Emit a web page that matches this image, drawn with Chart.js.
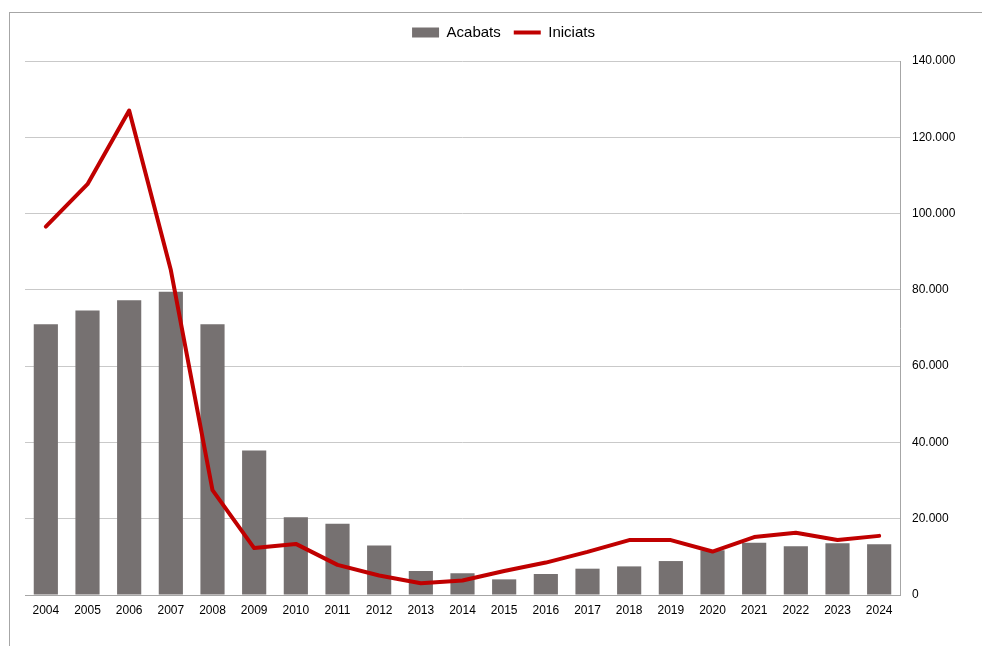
<!DOCTYPE html>
<html>
<head>
<meta charset="utf-8">
<script src="https://cdn.jsdelivr.net/npm/chart.js@4/dist/chart.umd.min.js"></script>
<style>
  html, body { margin: 0; padding: 0; background: #ffffff; }
  canvas { display: block; }
</style>
</head>
<body>
<canvas id="chart" width="982" height="646"></canvas>
<script>
// Habitatges acabats i iniciats per any
const years = ['2004','2005','2006','2007','2008','2009','2010','2011','2012','2013','2014',
               '2015','2016','2017','2018','2019','2020','2021','2022','2023','2024'];
const acabats = [71000, 74600, 77300, 79500, 71000, 37900, 20400, 18700, 13000, 6300, 5700,
                 4100, 5500, 6900, 7500, 8900, 11700, 13700, 12800, 13600, 13300];
const iniciats = [96600, 107700, 127000, 85200, 27500, 12300, 13400, 7900, 5100, 3100, 3800,
                  6300, 8500, 11300, 14400, 14400, 11400, 15200, 16300, 14400, 15500];
const yTicks = [0, 20000, 40000, 60000, 80000, 100000, 120000, 140000];

const FONT = 'Arial, "Liberation Sans", sans-serif';

// thousands separator with a dot
function fmt(v) {
  return String(Math.round(v)).replace(/\B(?=(\d{3})+(?!\d))/g, '.');
}

// outer frame around the chart
const framePlugin = {
  id: 'frame',
  beforeDraw(chart) {
    const ctx = chart.ctx;
    ctx.save();
    ctx.fillStyle = '#ffffff';
    ctx.fillRect(0, 0, chart.width, chart.height);
    ctx.strokeStyle = '#a6a6a6';
    ctx.lineWidth = 1;
    ctx.strokeRect(9.5, 12.5, 1200, 1000);
    ctx.restore();
  }
};

// extra room below the legend
const legendGapPlugin = {
  id: 'legendGap',
  beforeLayout(chart) {
    const legend = chart.legend;
    if (legend && !legend._gapWrapped) {
      const fit = legend.fit.bind(legend);
      legend.fit = function () {
        fit();
        this.height += 11;
      };
      legend._gapWrapped = true;
    }
  }
};

new Chart(document.getElementById('chart'), {
  data: {
    labels: years,
    datasets: [
      {
        type: 'bar',
        label: 'Acabats',
        data: acabats,
        backgroundColor: '#767171',
        borderWidth: 0,
        pointStyle: 'rect',
        categoryPercentage: 1.0,
        barPercentage: 0.58,
        order: 1
      },
      {
        type: 'line',
        label: 'Iniciats',
        data: iniciats,
        borderColor: '#c00000',
        backgroundColor: '#c00000',
        borderWidth: 4,
        borderJoinStyle: 'round',
        borderCapStyle: 'round',
        tension: 0,
        pointRadius: 0,
        pointHoverRadius: 0,
        pointStyle: 'line',
        order: 0
      }
    ]
  },
  options: {
    responsive: false,
    animation: false,
    layout: { padding: { top: 12, left: 25, right: 0, bottom: 0 } },
    plugins: {
      tooltip: { enabled: false },
      legend: {
        position: 'top',
        align: 'center',
        labels: {
          usePointStyle: true,
          pointStyleWidth: 27,
          boxWidth: 27,
          boxHeight: 10,
          padding: 13,
          color: '#000000',
          font: { family: FONT, size: 15 },
          sort: (a, b) => a.datasetIndex - b.datasetIndex
        }
      }
    },
    scales: {
      x: {
        grid: { display: false, drawTicks: false },
        border: { display: true, color: '#a6a6a6', width: 1 },
        ticks: {
          color: '#000000',
          font: { family: FONT, size: 12 },
          padding: 8,
          maxRotation: 0,
          autoSkip: false
        },
        afterFit(scale) { scale.height = 51; }
      },
      y: {
        position: 'right',
        min: 0,
        max: 140000,
        afterBuildTicks(scale) { scale.ticks = yTicks.map(v => ({ value: v })); },
        grid: { color: '#c9c9c9', lineWidth: 1, drawTicks: false },
        border: { display: true, color: '#a6a6a6', width: 1 },
        ticks: {
          color: '#000000',
          font: { family: FONT, size: 12 },
          padding: 12,
          align: 'center',
          callback: (v) => fmt(v)
        },
        afterFit(scale) { scale.width = 82; }
      }
    }
  },
  plugins: [framePlugin, legendGapPlugin]
});
</script>
</body>
</html>
